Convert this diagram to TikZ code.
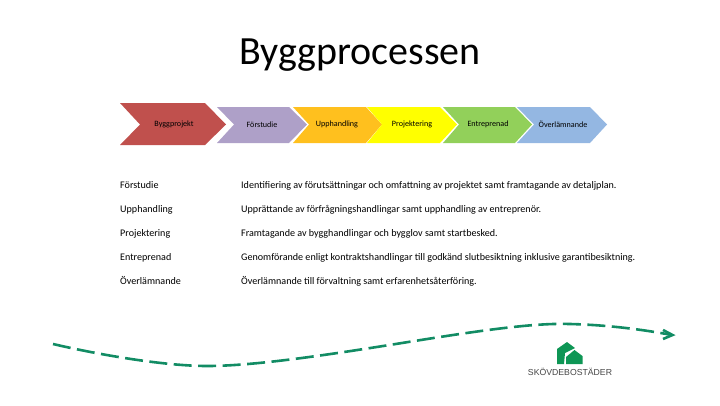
\documentclass[tikz,border=0pt]{standalone}
\usepackage{fontspec}
\setmainfont{Carlito}
\newfontfamily\logofont{Liberation Sans}
\definecolor{grn}{RGB}{18,140,100}
\definecolor{logog}{RGB}{14,150,85}
\definecolor{logot}{RGB}{70,70,70}
\definecolor{cred}{RGB}{192,80,77}
\definecolor{cpur}{RGB}{174,160,200}
\definecolor{cora}{RGB}{255,192,30}
\definecolor{cyel}{RGB}{255,255,0}
\definecolor{cgrn}{RGB}{146,208,90}
\definecolor{cblu}{RGB}{148,183,226}
\tikzset{
  chevlabel/.style={font=\fontsize{8.1}{9}\selectfont,text=black,inner sep=0pt,anchor=center},
  rowlabel/.style={font=\fontsize{10.1}{12}\selectfont,text=black,inner sep=0pt,anchor=base west},
  flowline/.style={draw=grn,line width=2.6pt,dash pattern=on 18pt off 6.5pt},
}
\begin{document}
\begin{tikzpicture}[x=1pt,y=-1pt]
\useasboundingbox (0,0) rectangle (720,405);
\node[font=\fontsize{40}{44}\selectfont,inner sep=0pt,anchor=base] (title) at (360,64) {Byggprocessen};
\fill[cred] (120,103) -- (205,103) -- (226,124.5) -- (205,145) -- (120,145) -- (140,124.5) -- cycle;
\fill[cpur] (217,107) -- (289,107) -- (307,124.5) -- (289,143) -- (217,143) -- (234,124.5) -- cycle;
\fill[cora] (293,107) -- (366,107) -- (382,124.5) -- (366,143) -- (293,143) -- (309,124.5) -- cycle;
\fill[cyel] (367,107) -- (440,107) -- (457,124.5) -- (440,143) -- (367,143) -- (382,124.5) -- cycle;
\fill[cgrn] (443,107) -- (515,107) -- (532,124.5) -- (515,143) -- (443,143) -- (459,124.5) -- cycle;
\fill[cblu] (517,107) -- (590,107) -- (607,124.5) -- (590,143) -- (517,143) -- (534,124.5) -- cycle;
\node[chevlabel] (c1) at (174,124.5) {Byggprojekt};
\node[chevlabel] (c2) at (262,124.5) {Förstudie};
\node[chevlabel] (c3) at (337,124.5) {Upphandling};
\node[chevlabel] (c4) at (412,124.5) {Projektering};
\node[chevlabel] (c5) at (488,124.5) {Entreprenad};
\node[chevlabel] (c6) at (563,124.5) {Överlämnande};
\node[rowlabel] (r1) at (120,188) {Förstudie};
\node[rowlabel] (r2) at (120,212) {Upphandling};
\node[rowlabel] (r3) at (120,236) {Projektering};
\node[rowlabel] (r4) at (120,260) {Entreprenad};
\node[rowlabel] (r5) at (120,284) {Överlämnande};
\node[rowlabel] (d1) at (241,188) {Identifiering av förutsättningar och omfattning av projektet samt framtagande av detaljplan.};
\node[rowlabel] (d2) at (241,212) {Upprättande av förfrågningshandlingar samt upphandling av entreprenör.};
\node[rowlabel] (d3) at (241,236) {Framtagande av bygghandlingar och bygglov samt startbesked.};
\node[rowlabel] (d4) at (241,260) {Genomförande enligt kontraktshandlingar till godkänd slutbesiktning inklusive garantibesiktning.};
\node[rowlabel] (d5) at (241,284) {Överlämnande till förvaltning samt erfarenhetsåterföring.};
\coordinate (fs) at (53,344);
\coordinate (fe) at (672,335);
\draw[flowline] (fs) .. controls (100,355) and (165,366) .. (207,366) .. controls (270,366) and (380,346) .. (453,335) .. controls (500,328) and (540,323) .. (570,324) .. controls (610,325) and (645,330) .. (fe);
\draw[grn,line width=2.6pt] (663,330) -- (672.5,335) -- (663,339);
% logo
\fill[logog] (557,349) -- (567,342) -- (575,348) -- (565,353) -- (564,364) -- (557,364) -- cycle;
\fill[logog] (566,357) -- (574.5,350) -- (582.5,356) -- (582.5,364) -- (566,364) -- cycle;
\node[font=\logofont\fontsize{8.7}{10}\selectfont,text=logot,inner sep=0pt] (logo) at (570,371.5) {SKÖVDEBOSTÄDER};
\end{tikzpicture}
\end{document}
